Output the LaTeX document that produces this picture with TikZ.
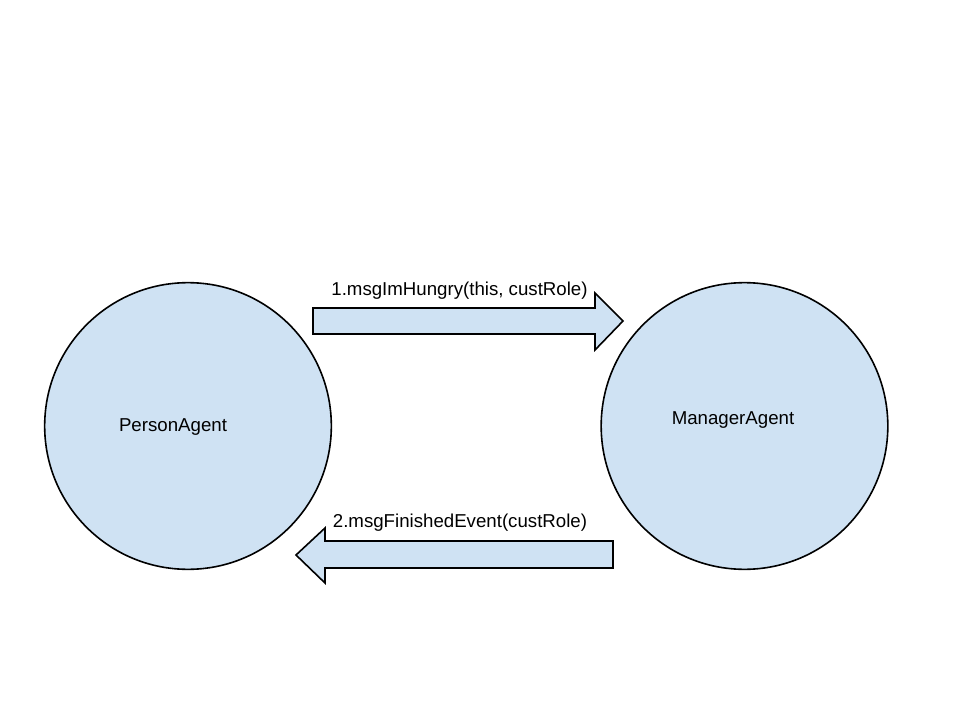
\documentclass[tikz,border=0pt]{standalone}
\usepackage{fontspec}
\setmainfont{Liberation Sans}
\definecolor{agentfill}{RGB}{207,226,243}
\begin{document}
\begin{tikzpicture}[x=0.75pt,y=-0.75pt,
  agent/.style={circle,draw=black,fill=agentfill,line width=1.2pt,minimum size=215pt,inner sep=0pt},
  blockarrow/.style={draw=black,fill=agentfill,line width=1.2pt,line join=miter},
  txt/.style={inner sep=0pt,font=\fontsize{14pt}{16pt}\selectfont}]
\useasboundingbox (0,0) rectangle (960,720);
\node[agent] (person) at (188,426) {};
\node[agent] (manager) at (744.5,426) {};
\node[txt] (personlbl) at (173,427) {PersonAgent};
\node[txt] (managerlbl) at (733,420) {ManagerAgent};
% arrow 1 (to the right)
\draw[blockarrow] (313,308) -- (595,308) -- (595,293) -- (623,321) -- (595,350) -- (595,334) -- (313,334) -- cycle;
\node[txt] (msg1) at (459.5,291) {1.msgImHungry(this, custRole)};
% arrow 2 (to the left)
\draw[blockarrow] (613,541) -- (325,541) -- (325,528) -- (296,555) -- (325,583) -- (325,568) -- (613,568) -- cycle;
\node[txt] (msg2) at (460,523) {2.msgFinishedEvent(custRole)};
\end{tikzpicture}
\end{document}
